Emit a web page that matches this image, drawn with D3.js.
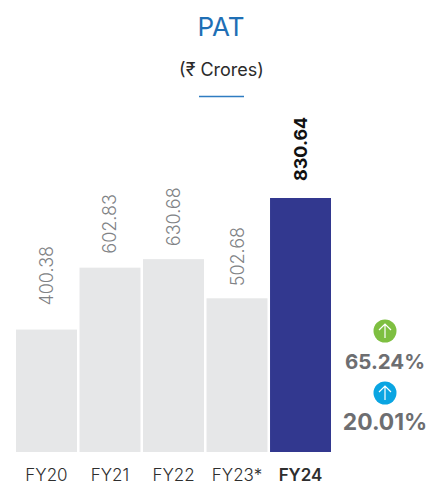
<!DOCTYPE html>
<html>
<head>
<meta charset="utf-8">
<script src="https://cdn.jsdelivr.net/npm/d3@7"></script>
<style>
    html, body { margin: 0; padding: 0; background: #fff; }
    svg { display: block; }
    text { font-family: Inter, "Noto Sans", sans-serif; }
</style>
</head>
<body>
<svg id="chart"></svg>
<script>
const years = ["FY20", "FY21", "FY22", "FY23*", "FY24"];
const pat = [400.38, 602.83, 630.68, 502.68, 830.64];
const valueLabels = ["400.38", "602.83", "630.68", "502.68", "830.64"];
const growthLabels = ["65.24%", "20.01%"];
const growthColors = ["#7ebf41", "#0aa5e2"];

const width = 429, height = 486;
const highlight = "FY24";

// layout of the labels, they do not sit at an even distance in the original
const labelGap = [24, 14, 13, 12, 17];
const badgeY = [331, 393];
const growthTextY = [38, 37];
const growthTextSize = [20.5, 22.8];

const svg = d3.select("#chart")
    .attr("width", width)
    .attr("height", height);

const x = d3.scaleBand()
    .domain(years)
    .range([16, 331])
    .paddingInner(0.04);

const y = d3.scaleLinear()
    .domain([0, 830.64])
    .range([452, 198]);

// title block
svg.append("text")
    .attr("x", 221).attr("y", 36)
    .attr("text-anchor", "middle")
    .attr("font-size", 26)
    .attr("fill", "#1f6fb5")
    .text("PAT");

svg.append("text")
    .attr("x", 221.5).attr("y", 76)
    .attr("text-anchor", "middle")
    .attr("font-size", 18)
    .attr("fill", "#2b2b2b")
    .text("(₹ Crores)");

svg.append("line")
    .attr("x1", 199).attr("x2", 244)
    .attr("y1", 96.5).attr("y2", 96.5)
    .attr("stroke", "#2f7cc1")
    .attr("stroke-width", 1.5);

// bars
svg.selectAll("rect.bar")
    .data(years)
    .join("rect")
    .attr("class", "bar")
    .attr("x", d => x(d))
    .attr("width", x.bandwidth())
    .attr("y", (d, i) => y(pat[i]))
    .attr("height", (d, i) => y(0) - y(pat[i]))
    .attr("fill", d => d === highlight ? "#32388f" : "#e6e7e8");

// rotated value labels
svg.selectAll("text.value")
    .data(years)
    .join("text")
    .attr("class", "value")
    .attr("transform", (d, i) => "translate(" + (x(d) + x.bandwidth() / 2 + 6.5) + "," + (y(pat[i]) - labelGap[i]) + ") rotate(-90)")
    .attr("font-size", 18)
    .attr("font-weight", d => d === highlight ? 700 : 300)
    .attr("fill", d => d === highlight ? "#111" : "#808285")
    .text((d, i) => valueLabels[i]);

// category axis
const xAxis = d3.axisBottom(x).tickSize(0).tickPadding(0);
const axisG = svg.append("g")
    .attr("transform", "translate(0,468.5)")
    .call(xAxis);
axisG.select(".domain").remove();
axisG.selectAll("text")
    .attr("font-size", 17)
    .attr("font-family", "Inter")
    .attr("fill", "#2e2e2e")
    .attr("font-weight", d => d === highlight ? 600 : 300);

// growth badges
const badges = svg.selectAll("g.badge")
    .data(growthLabels)
    .join("g")
    .attr("class", "badge")
    .attr("transform", (d, i) => "translate(385," + badgeY[i] + ")");

badges.append("circle")
    .attr("r", 11.5)
    .attr("fill", (d, i) => growthColors[i]);

badges.append("path")
    .attr("d", "M0,7V-7M-6,-1L0,-7L6,-1")
    .attr("fill", "none")
    .attr("stroke", "#fff")
    .attr("stroke-width", 1.2);

badges.append("text")
    .attr("y", (d, i) => growthTextY[i])
    .attr("text-anchor", "middle")
    .attr("font-size", (d, i) => growthTextSize[i])
    .attr("font-weight", 700)
    .attr("fill", "#6d6e71")
    .text(d => d);
</script>
</body>
</html>
